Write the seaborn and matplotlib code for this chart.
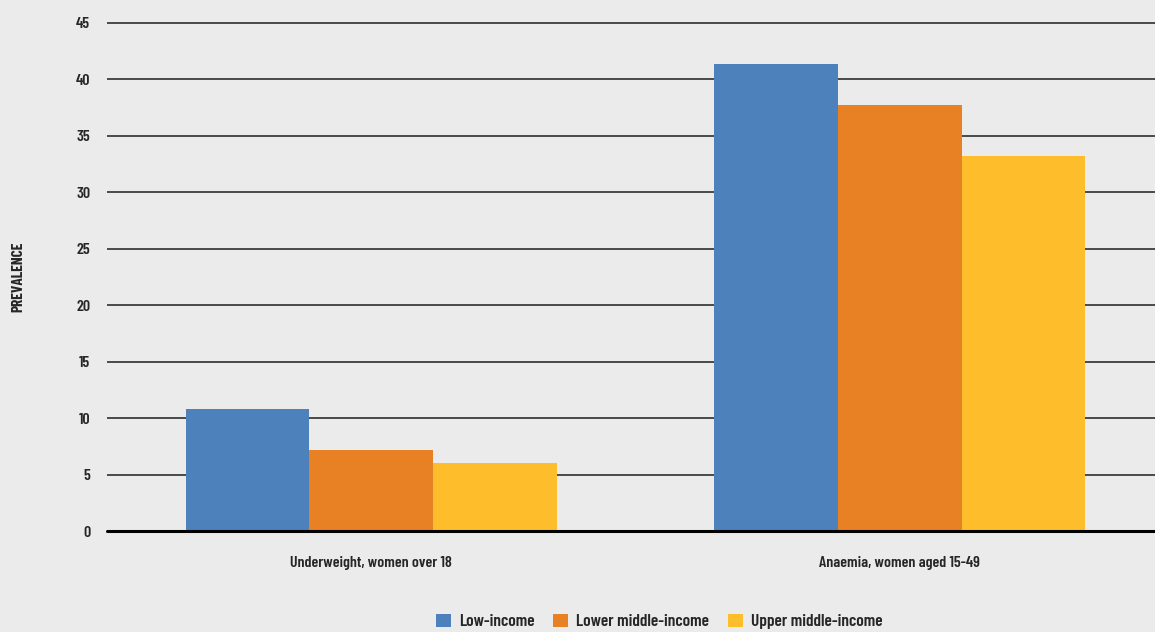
import pandas as pd
import matplotlib.pyplot as plt
import seaborn as sns

# data
indicadores = ['Underweight, women over 18', 'Anaemia, women aged 15-49']
grupos = ['Low-income', 'Lower middle-income', 'Upper middle-income']
low_income = [10.8, 41.4]
lower_middle = [7.2, 37.7]
upper_middle = [6.0, 33.2]
cores = ['#4D81BC', '#E88024', '#FEBD2A']

df = pd.DataFrame({
    'indicador': indicadores * 3,
    'grupo': [g for g in grupos for _ in indicadores],
    'valor': low_income + lower_middle + upper_middle,
})

sns.set_style('white')
# fonte condensada, com DejaVu condensada de reserva
plt.rcParams['font.family'] = ['Barlow Condensed', 'DejaVu Sans']
plt.rcParams['font.stretch'] = 'condensed'
plt.rcParams['font.weight'] = 600
fundo = '#EBEBEB'

fig = plt.figure(figsize=(11.55, 6.32), dpi=100, facecolor=fundo)
ax = fig.add_axes([0.0926, 0.1598, 0.9074, 0.8092])
ax.set_facecolor(fundo)

sns.barplot(data=df, x='indicador', y='valor', hue='grupo', hue_order=grupos,
            palette=cores, width=0.702, saturation=1, linewidth=0,
            ax=ax, zorder=3)

ax.set_ylim(0, 45.3)
ax.set_xlim(-0.5, 1.4825)
ax.set_yticks(range(0, 46, 5))
ax.yaxis.grid(True, color='#3c3c3c', linewidth=1.3, zorder=0)
ax.axhline(0, color='black', linewidth=2.2, zorder=4, clip_on=False)
for s in ax.spines.values():
    s.set_visible(False)
ax.tick_params(axis='both', length=0, labelsize=11.5)
ax.tick_params(axis='y', pad=12)
ax.tick_params(axis='x', pad=18)

ax.set_xlabel('')
ax.set_ylabel('')
fig.text(0.0156, 0.5617, 'PREVALENCE', rotation=90, ha='center', va='center',
         fontsize=11, fontweight='bold')

ax.legend(loc='center', bbox_to_anchor=(0.527, -0.177), ncol=3,
          frameon=False, handlelength=0.85, handleheight=0.85,
          handletextpad=0.45, columnspacing=1.1, prop={'size': 12.5, 'weight': 600})

fig.savefig('out.png', dpi=100, facecolor=fundo)
